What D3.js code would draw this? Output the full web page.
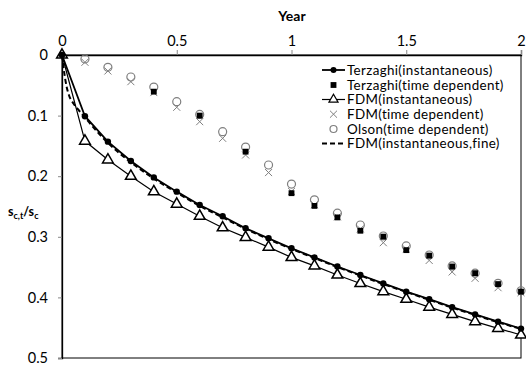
<!DOCTYPE html>
<html><head><meta charset="utf-8">
<script src="https://cdn.jsdelivr.net/npm/d3@7"></script>
<style>body{margin:0;background:#fff}svg{display:block}text{font-family:Lato,"Open Sans",sans-serif}</style>
</head><body><svg id="c" width="526" height="367"></svg>
<script>
const timesInst = [0,0.1,0.2,0.3,0.4,0.5,0.6,0.7,0.8,0.9,1.0,1.1,1.2,1.3,1.4,1.5,1.6,1.7,1.8,1.9,2.0];
const terzaghiInst = [0,0.101,0.143,0.175,0.202,0.2255,0.2475,0.266,0.286,0.3025,0.319,0.334,0.349,0.363,0.377,0.3905,0.403,0.416,0.428,0.44,0.4515];
const fdmInst = [0,0.142,0.173,0.2,0.2255,0.246,0.266,0.285,0.301,0.317,0.334,0.348,0.363,0.377,0.3905,0.403,0.416,0.428,0.44,0.451,0.462];
const timesTD = [0.1,0.2,0.3,0.4,0.5,0.6,0.7,0.8,0.9,1.0,1.1,1.2,1.3,1.4,1.5,1.6,1.7,1.8,1.9,2.0];
const fdmTD = [0.012,0.0264,0.044,0.062,0.0863,0.110,0.1375,0.165,0.194,0.225,0.247,0.267,0.287,0.3097,0.320,0.339,0.358,0.3685,0.384,0.392];
const olsonTD = [0.0066,0.0204,0.0363,0.053,0.077,0.098,0.1265,0.152,0.1815,0.213,0.239,0.261,0.2805,0.2987,0.315,0.330,0.348,0.360,0.3767,0.389];
const timesTerzTD = [0.4,0.6,0.8,1.0,1.1,1.2,1.3,1.4,1.5,1.6,1.7,1.8,1.9,2.0];
const terzaghiTD = [0.0605,0.100,0.1595,0.228,0.249,0.268,0.290,0.2997,0.322,0.331,0.349,0.360,0.378,0.3905];
const timesFine = [0,0.01,0.02,0.03,0.05,0.075,0.1,0.15,0.2,0.3,0.4,0.5,0.6,0.7,0.8,0.9,1.0,1.1,1.2,1.3,1.4,1.5,1.6,1.7,1.8,1.9,2.0];
const fdmFine = [0,0.03,0.052,0.066,0.080,0.092,0.103,0.125,0.145,0.177,0.204,0.227,0.249,0.268,0.287,0.304,0.320,0.335,0.350,0.364,0.378,0.391,0.404,0.417,0.429,0.441,0.452];
const xTicks = [0,0.5,1,1.5,2];
const yTicks = [0,0.1,0.2,0.3,0.4,0.5];
const legendLabels = ["Terzaghi(instantaneous)","Terzaghi(time dependent)","FDM(instantaneous)","FDM(time dependent)","Olson(time dependent)","FDM(instantaneous,fine)"];

const svg = d3.select("#c");
const L=62,R=521,T=55,B=358;
const x = d3.scaleLinear().domain([0,2]).range([L,R]);
const y = d3.scaleLinear().domain([0,0.5]).range([T,B]);
const grey="#7f7f7f";

svg.append("rect").attr("x",L).attr("y",T).attr("width",R-L).attr("height",B-T)
  .attr("fill","none").attr("stroke","#000").attr("stroke-width",1);

const xa = svg.append("g").attr("transform",`translate(0,${T})`)
  .call(d3.axisTop(x).tickValues(xTicks).tickFormat(d3.format("")).tickSize(5).tickPadding(4));
const ya = svg.append("g").attr("transform",`translate(${L},0)`)
  .call(d3.axisLeft(y).tickValues(yTicks).tickFormat(d=>d===0?"0":d3.format(".1f")(d)).tickSize(4).tickPadding(6));
[xa,ya].forEach(a=>{a.selectAll("path").attr("stroke","#000").attr("stroke-width",1.3);
  a.selectAll("line").attr("stroke","#888");
  a.selectAll("text").attr("font-size",14.5).attr("fill","#000").attr("font-family","Lato,sans-serif");});
ya.selectAll("text").attr("dx",-4);

svg.append("text").attr("x",292).attr("y",21).attr("text-anchor","middle")
  .attr("font-size",14).attr("font-weight","bold").text("Year");
const yl = svg.append("text").attr("x",8).attr("y",216).attr("font-size",12.5).attr("font-weight","bold");
yl.append("tspan").text("s");
yl.append("tspan").attr("font-size",9).attr("dy",3).text("c,t");
yl.append("tspan").attr("dy",-3).text("/s");
yl.append("tspan").attr("font-size",9).attr("dy",3).text("c");

const line = d3.line().x(d=>x(d[0])).y(d=>y(d[1]));
const zip=(a,b)=>a.map((t,i)=>[t,b[i]]);

svg.append("path").datum(zip(timesInst,fdmInst)).attr("d",line).attr("fill","none").attr("stroke","#000").attr("stroke-width",1.2);
svg.append("path").datum(zip(timesInst,terzaghiInst)).attr("d",line).attr("fill","none").attr("stroke","#000").attr("stroke-width",1.8);
svg.append("path").datum(zip(timesFine,fdmFine)).attr("d",line.curve(d3.curveMonotoneX)).attr("fill","none").attr("stroke","#000").attr("stroke-width",2).attr("stroke-dasharray","5,3");

const tri = d3.symbol().type(d3.symbolTriangle).size(50);
const sq = d3.symbol().type(d3.symbolSquare).size(34);
const cross = d3.symbol().type(d3.symbolX).size(34);
svg.append("g").selectAll("path").data(zip(timesTD,fdmTD)).join("path")
  .attr("transform",d=>`translate(${x(d[0])},${y(d[1])})`).attr("d",cross)
  .attr("fill","none").attr("stroke",grey).attr("stroke-width",1);
svg.append("g").selectAll("circle").data(zip(timesTD,olsonTD)).join("circle")
  .attr("cx",d=>x(d[0])).attr("cy",d=>y(d[1])).attr("r",4)
  .attr("fill","none").attr("stroke",grey).attr("stroke-width",1.2);
svg.append("g").selectAll("path").data(zip(timesTerzTD,terzaghiTD)).join("path")
  .attr("transform",d=>`translate(${x(d[0])},${y(d[1])})`).attr("d",sq).attr("fill","#000");
svg.append("g").selectAll("path").data(zip(timesInst,fdmInst)).join("path")
  .attr("transform",d=>`translate(${x(d[0])},${y(d[1])})`).attr("d",tri)
  .attr("fill","#fff").attr("stroke","#000").attr("stroke-width",1.5);
svg.append("g").selectAll("circle").data(zip(timesInst,terzaghiInst)).join("circle")
  .attr("cx",d=>x(d[0])).attr("cy",d=>y(d[1])).attr("r",3.2).attr("fill","#000");

const lg = svg.append("g");
const rowsY=[70,85,99.5,114.2,129,143.5];
const lx0=322,lx1=345,tx=347;
legendLabels.forEach((lab,i)=>{
  lg.append("text").attr("x",tx).attr("y",rowsY[i]).attr("dy","0.35em").attr("font-size",13.4)
    .attr("letter-spacing",0.35).text(lab);
});
const lc=(lx0+lx1)/2;
lg.append("line").attr("x1",lx0).attr("x2",lx1).attr("y1",rowsY[0]).attr("y2",rowsY[0]).attr("stroke","#000").attr("stroke-width",1.8);
lg.append("circle").attr("cx",lc).attr("cy",rowsY[0]).attr("r",3).attr("fill","#000");
lg.append("path").attr("transform",`translate(${lc},${rowsY[1]})`).attr("d",sq).attr("fill","#000");
lg.append("line").attr("x1",lx0).attr("x2",lx1).attr("y1",rowsY[2]).attr("y2",rowsY[2]).attr("stroke","#000").attr("stroke-width",1.2);
lg.append("path").attr("transform",`translate(${lc},${rowsY[2]})`).attr("d",d3.symbol().type(d3.symbolTriangle).size(36)).attr("fill","#fff").attr("stroke","#000").attr("stroke-width",1.2);
lg.append("path").attr("transform",`translate(${lc},${rowsY[3]})`).attr("d",cross).attr("fill","none").attr("stroke",grey);
lg.append("circle").attr("cx",lc).attr("cy",rowsY[4]).attr("r",3.5).attr("fill","none").attr("stroke",grey).attr("stroke-width",1.2);
lg.append("line").attr("x1",lx0).attr("x2",lx1).attr("y1",rowsY[5]).attr("y2",rowsY[5]).attr("stroke","#000").attr("stroke-width",2).attr("stroke-dasharray","5,3");
</script></body></html>
